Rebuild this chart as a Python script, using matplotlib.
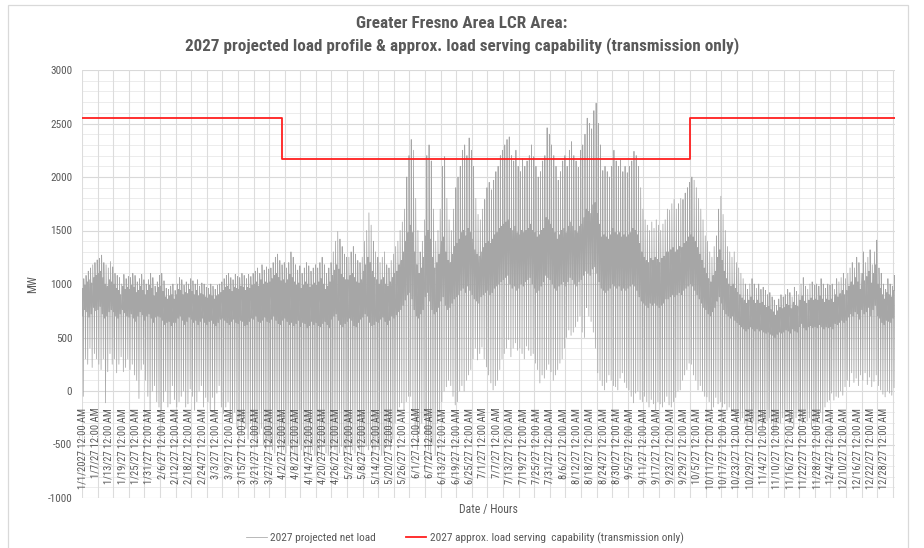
import numpy as np
import pandas as pd
import matplotlib
matplotlib.use("Agg")
import matplotlib.pyplot as plt
from matplotlib import font_manager
from matplotlib.patches import Rectangle

# ---------------- fonts ----------------
_names = {f.name for f in font_manager.fontManager.ttflist}
FONT = next((n for n in ["Liberation Sans Narrow", "Roboto Condensed",
                         "DejaVu Sans Condensed", "Liberation Sans"] if n in _names),
            "DejaVu Sans")
plt.rcParams["font.family"] = [FONT, "DejaVu Sans"]

# ---------------- data ----------------
title_lines = ["Greater Fresno Area LCR Area:",
               "2027 projected load profile & approx. load serving capability (transmission only)"]
series_names = ["2027 projected net load",
                "2027 approx. load serving  capability (transmission only)"]

# daily evening peak of net load (MW), one value per day (365)
peak_mw = [
    1050, 1080, 1120, 1150, 1180, 1200, 1225,
    1240, 1270, 1200, 1180, 1150, 1210, 1160,
    1100, 1080, 1060, 1000, 1090, 1050, 1070,
    1060, 1100, 1080, 1020, 1050, 1090, 1040,
    1000, 1040, 1100, 1060, 980, 1020, 1080,
    1100, 1030, 960, 950, 980, 1000, 940,
    1000, 1060, 1040, 990, 1020, 1000, 1050,
    1030, 1000, 1040, 980, 1010, 1000, 970,
    960, 1000, 980, 950, 990, 1000, 1020,
    1050, 1080, 1100, 1060, 1040, 1090, 1070,
    1060, 1100, 1080, 1050, 1090, 1070, 1100,
    1120, 1150, 1100, 1180, 1130, 1160, 1140,
    1150, 1200, 1250, 1280, 1220, 1180, 1200,
    1150, 1200, 1300, 1250, 1180, 1130, 1170,
    1100, 1150, 1200, 1170, 1120, 1150, 1180,
    1150, 1200, 1250, 1180, 1100, 1150, 1200,
    1300, 1400, 1490, 1420, 1350, 1280, 1250,
    1250, 1300, 1350, 1280, 1220, 1200, 1250,
    1400, 1500, 1665, 1550, 1400, 1300, 1250,
    1200, 1250, 1300, 1180, 1150, 1220, 1280,
    1350, 1400, 1500, 1580, 1700, 2000, 2200,
    2350, 2250, 1800, 1500, 1300, 1400, 1600,
    2200, 2300, 2150, 1700, 1400, 1500, 1700,
    2100, 2190, 1800, 1600, 1500, 1700, 1900,
    2000, 2100, 2250, 2300, 2200, 2365, 2250,
    2100, 1800, 1650, 1600, 1700, 1790, 1900,
    1950, 1880, 1970, 2050, 2100, 2200, 2250,
    2300, 2350, 2375, 2200, 2150, 2250, 2100,
    2050, 2170, 2100, 2150, 2200, 2300, 2190,
    2100, 2000, 2050, 2150, 2200, 2460, 2400,
    2300, 2200, 2100, 1970, 2050, 2150, 2200,
    2100, 2250, 2330, 2200, 2150, 2090, 2250,
    2300, 2400, 2550, 2500, 2450, 2620, 2690,
    2500, 2300, 2060, 2100, 2050, 2000, 2100,
    2250, 2150, 2100, 2160, 2050, 2100, 2040,
    2100, 2150, 2240, 2200, 2100, 1900, 1700,
    1600, 1550, 1500, 1580, 1520, 1600, 1550,
    1500, 1560, 1600, 1700, 1690, 1750, 1790,
    1700, 1750, 1800, 1790, 1850, 1900, 1950,
    2000, 1970, 1900, 1800, 1700, 1600, 1450,
    1400, 1300, 1250, 1350, 1450, 1700, 1820,
    1650, 1500, 1350, 1300, 1250, 1300, 1200,
    1150, 1100, 1050, 1000, 950, 1000, 1050,
    1000, 960, 1000, 950, 970, 940, 900,
    920, 880, 850, 800, 860, 900, 880,
    900, 950, 920, 880, 970, 930, 900,
    1000, 1060, 980, 950, 1000, 1020, 990,
    1000, 980, 1050, 1000, 960, 1000, 990,
    1000, 950, 1050, 1020, 1060, 1100, 1050,
    1100, 1150, 1200, 1150, 1250, 1200, 1100,
    1300, 1200, 1250, 1320, 1180, 1300, 1410,
    1150, 1100, 1000, 950, 1050, 1000, 980,
    1080,
]

# daily midday minimum of net load (MW), one value per day (365)
trough_mw = [
    -50, 300, 250, 400, 220, 350, 300,
    250, 200, 300, -110, 180, 350, 250,
    300, 170, 250, 320, 180, 220, 300,
    200, 250, 150, 100, -70, 200, 250,
    100, -50, -180, 0, 50, -100, -150,
    -180, -100, 0, -150, -120, 50, -80,
    -150, -100, -50, 0, -150, -120, 20,
    -50, -180, -100, 0, 50, -150, -60,
    -100, -180, -60, -200, -20, 50, -150,
    -210, -150, -100, -250, -300, -200, -350,
    -250, -400, -300, -350, -450, -300, -400,
    -450, -520, -400, -350, -500, -550, -450,
    -500, -550, -580, -450, -500, -600, -550,
    -580, -500, -620, -550, -600, -645, -500,
    -550, -600, -500, -620, -580, -550, -600,
    -600, -550, -620, -500, -580, -600, -550,
    -500, -550, -600, -580, -520, -600, -550,
    -520, -600, -550, -580, -500, -550, -600,
    -450, -520, -550, -500, -600, -550, -500,
    -550, -600, -580, -520, -500, -550, -450,
    -300, -200, -150, -110, -180, -100, -50,
    -50, -200, -350, -550, -400, -300, -250,
    -400, -550, -645, -500, -600, -300, -200,
    -100, 0, 40, 100, 50, -50, -130,
    -100, 0, 50, 0, 100, 150, 200,
    300, 400, 290, 350, 410, 300, 225,
    150, 75, 10, 50, 100, 200, 300,
    350, 400, 480, 320, 400, 450, 380,
    400, 350, 300, 420, 380, 330, 350,
    260, 200, 75, 150, 120, 200, 250,
    180, 100, 150, 200, 260, 300, 400,
    500, 570, 520, 550, 600, 650, 700,
    550, 500, 780, 700, 650, 550, 400,
    170, 100, 50, 10, 80, 150, 100,
    50, 40, 10, 120, 170, 80, 30,
    10, -50, -110, -20, 0, -80, -100,
    -50, -100, -150, -80, -120, -180, -100,
    -120, -150, -100, -50, -130, -150, -100,
    -60, 0, 10, 100, 150, 200, 260,
    250, 150, 100, 10, 50, 0, -50,
    -55, -100, -180, -150, -60, -120, -100,
    -150, -120, -180, -150, -200, -180, -250,
    -200, -280, -250, -300, -350, -250, -300,
    -280, -390, -300, -250, -350, -300, -280,
    -250, -300, -390, -350, -280, -300, -250,
    -250, -200, -300, -280, -350, -250, -200,
    -250, -300, -200, -280, -250, -350, -300,
    -280, -250, -200, -300, -150, -100, -85,
    -20, -85, -50, -60, 0, -40, 40,
    100, 40, 170, 80, 120, 50, 150,
    100, 170, 60, 130, 40, 90, 150,
    50, 10, -30, -55, 0, -20, -40,
    30,
]

# daily overnight load level (MW), one value per day (365)
night_mw = [
    700, 760, 740, 690, 720, 780, 750,
    760, 790, 720, 680, 700, 740, 760,
    740, 700, 680, 720, 760, 730, 700,
    690, 720, 680, 650, 700, 740, 710,
    660, 700, 720, 680, 640, 690, 700,
    690, 660, 620, 640, 650, 610, 640,
    640, 680, 700, 660, 620, 650, 690,
    670, 640, 660, 620, 650, 680, 640,
    620, 650, 660, 630, 610, 640, 670,
    680, 660, 640, 620, 650, 670, 640,
    630, 660, 650, 610, 620, 650, 680,
    670, 700, 650, 640, 660, 690, 650,
    640, 670, 700, 660, 630, 620, 660,
    680, 650, 620, 640, 610, 630, 660,
    600, 640, 630, 590, 610, 650, 620,
    640, 610, 600, 630, 650, 620, 590,
    670, 700, 720, 660, 620, 600, 630,
    650, 680, 660, 610, 600, 640, 670,
    690, 720, 700, 640, 610, 620, 650,
    640, 670, 690, 650, 620, 660, 700,
    680, 710, 740, 760, 800, 850, 900,
    920, 860, 760, 700, 680, 720, 760,
    880, 920, 840, 760, 720, 740, 780,
    840, 880, 800, 760, 780, 820, 860,
    880, 900, 940, 960, 920, 980, 940,
    900, 860, 840, 820, 880, 900, 920,
    940, 900, 920, 960, 980, 1000, 1020,
    1040, 1060, 1080, 1000, 960, 980, 940,
    960, 1000, 980, 1020, 1040, 1060, 1000,
    960, 920, 940, 980, 1020, 1080, 1060,
    1040, 1000, 960, 940, 980, 1000, 1020,
    980, 1020, 1060, 1040, 1000, 980, 1020,
    1040, 1080, 1120, 1100, 1080, 1140, 1160,
    1100, 1020, 960, 940, 920, 940, 960,
    1000, 980, 960, 980, 940, 960, 940,
    960, 980, 1000, 980, 940, 880, 840,
    820, 800, 780, 820, 800, 820, 800,
    780, 800, 820, 860, 860, 880, 900,
    880, 900, 920, 900, 940, 960, 980,
    1000, 980, 940, 900, 860, 820, 780,
    760, 720, 700, 740, 780, 840, 880,
    820, 760, 720, 700, 680, 700, 660,
    640, 620, 600, 580, 560, 580, 600,
    580, 560, 580, 560, 570, 550, 540,
    550, 530, 520, 500, 530, 550, 540,
    550, 570, 560, 540, 580, 560, 550,
    600, 630, 590, 570, 600, 610, 590,
    600, 590, 620, 600, 580, 600, 590,
    600, 580, 630, 620, 640, 660, 640,
    660, 690, 720, 700, 740, 720, 670,
    760, 720, 740, 780, 700, 760, 800,
    700, 680, 640, 620, 660, 650, 640,
    680,
]

# daily morning / late-evening shoulder load level (MW), one value per day (365)
shoulder_mw = [
    960, 990, 1020, 1040, 1010, 1060, 1080,
    1100, 1120, 1060, 1000, 980, 1040, 1020,
    1000, 960, 940, 900, 980, 950, 970,
    950, 990, 970, 920, 940, 980, 940,
    900, 940, 990, 960, 890, 920, 970,
    980, 930, 880, 860, 890, 900, 860,
    900, 950, 940, 900, 920, 910, 950,
    930, 900, 940, 890, 910, 900, 880,
    870, 900, 890, 860, 890, 900, 920,
    940, 970, 980, 950, 930, 970, 960,
    950, 980, 970, 940, 970, 960, 990,
    1000, 1020, 980, 1040, 1000, 1020, 1010,
    1020, 1050, 1080, 1100, 1060, 1030, 1040,
    1010, 1040, 1090, 1060, 1020, 990, 1010,
    960, 990, 1020, 1000, 970, 990, 1010,
    990, 1020, 1050, 1000, 950, 980, 1020,
    1080, 1130, 1180, 1140, 1090, 1060, 1040,
    1040, 1080, 1100, 1060, 1020, 1010, 1040,
    1120, 1180, 1250, 1200, 1120, 1060, 1040,
    1000, 1040, 1060, 1000, 980, 1020, 1060,
    1100, 1120, 1180, 1220, 1300, 1400, 1480,
    1550, 1480, 1300, 1180, 1100, 1150, 1250,
    1450, 1500, 1420, 1250, 1150, 1200, 1280,
    1400, 1440, 1300, 1220, 1200, 1280, 1350,
    1380, 1420, 1480, 1500, 1450, 1520, 1480,
    1420, 1320, 1280, 1260, 1300, 1340, 1380,
    1400, 1380, 1420, 1460, 1480, 1520, 1540,
    1560, 1580, 1600, 1520, 1500, 1540, 1480,
    1460, 1500, 1480, 1500, 1520, 1560, 1500,
    1480, 1440, 1460, 1500, 1520, 1620, 1600,
    1560, 1520, 1480, 1420, 1460, 1500, 1520,
    1480, 1540, 1580, 1540, 1500, 1480, 1540,
    1560, 1620, 1700, 1680, 1660, 1740, 1760,
    1660, 1560, 1440, 1460, 1440, 1420, 1460,
    1520, 1480, 1460, 1480, 1440, 1460, 1440,
    1460, 1480, 1520, 1500, 1460, 1380, 1300,
    1250, 1220, 1200, 1240, 1220, 1250, 1230,
    1200, 1240, 1260, 1300, 1300, 1320, 1340,
    1300, 1320, 1350, 1340, 1380, 1400, 1440,
    1460, 1440, 1400, 1340, 1280, 1220, 1150,
    1100, 1050, 1020, 1080, 1120, 1250, 1320,
    1220, 1120, 1050, 1000, 980, 1000, 960,
    920, 900, 870, 850, 820, 850, 880,
    850, 820, 850, 820, 830, 800, 780,
    790, 760, 740, 710, 750, 780, 770,
    780, 810, 800, 770, 830, 800, 790,
    850, 890, 840, 820, 850, 870, 850,
    860, 850, 890, 860, 830, 860, 850,
    860, 830, 900, 880, 910, 940, 900,
    940, 980, 1020, 990, 1060, 1020, 950,
    1100, 1030, 1070, 1120, 1010, 1100, 1180,
    1000, 960, 900, 860, 920, 900, 880,
    940,
]

# hours of the day for: night, morning shoulder, midday trough, evening peak, late shoulder
profile_hours = [2, 8, 13, 19, 22]

# load serving capability: step starts (hour of year) and levels
cap_start_hours = [0, 2160, 6552]
cap_values_mw = [2550, 2170, 2550]

# axis ticks (category labels every 144 hours)
y_ticks = [-1000, -500, 0, 500, 1000, 1500, 2000, 2500, 3000]
tick_dates = ["1/1/2027", "1/7/27", "1/13/27", "1/19/27", "1/25/27", "1/31/27",
              "2/6/27", "2/12/27", "2/18/27", "2/24/27", "3/3/27", "3/9/27", "3/15/27",
              "3/21/27", "3/27/27", "4/2/27", "4/8/27", "4/14/27", "4/20/27", "4/26/27",
              "5/2/27", "5/8/27", "5/14/27", "5/20/27", "5/26/27", "6/1/27", "6/7/27",
              "6/13/27", "6/19/27", "6/25/27", "7/1/27", "7/7/27", "7/13/27", "7/19/27",
              "7/25/27", "7/31/27", "8/6/27", "8/12/27", "8/18/27", "8/24/27", "8/30/27",
              "9/5/27", "9/11/27", "9/17/27", "9/23/27", "9/29/27", "10/5/27", "10/11/27",
              "10/17/27", "10/23/27", "10/29/27", "11/4/27", "11/10/27", "11/16/27",
              "11/22/27", "11/28/27", "12/4/27", "12/10/27", "12/16/27", "12/22/27",
              "12/28/27"]
tick_labels = [f"{d} 12:00 AM" for d in tick_dates]
label_step_hours = 144
grid_step_hours = 168

for arr in (peak_mw, trough_mw, night_mw, shoulder_mw):
    assert len(arr) == 365

# ---------------- build series ----------------
hours_in_year = 8760
xs, ys = [], []
for d in range(365):
    vals = [night_mw[d], shoulder_mw[d], trough_mw[d], peak_mw[d], shoulder_mw[d]]
    for h, v in zip(profile_hours, vals):
        xs.append(d * 24 + h + 0.5)
        ys.append(v)

cap_x = cap_start_hours + [hours_in_year]
cap_y = cap_values_mw + [cap_values_mw[-1]]

# ---------------- figure ----------------
W, H = 924, 548
fig = plt.figure(figsize=(W / 100, H / 100), dpi=100)
fig.patch.set_facecolor("white")
L, R, T, B = 82, 895, 70, 498
ax = fig.add_axes([L / W, 1 - B / H, (R - L) / W, (B - T) / H])

TXT = "#595959"
GRAY = "#a6a6a6"

# grid
for v in range(-1000, 3001, 100):
    major = (v % 500 == 0)
    ax.axhline(v, color="#d9d9d9" if major else "#ececec", lw=0.8 if major else 0.7, zorder=0.5)
for hx in range(0, hours_in_year + 1, grid_step_hours):
    ax.axvline(hx, color="#dcdcdc", lw=0.8, zorder=0.5)

ax.plot(xs, ys, color=GRAY, lw=0.55, zorder=2, label=series_names[0])
ax.step(cap_x, cap_y, where="post", color="#ff1f1f", lw=1.3, zorder=3, label=series_names[1])

ax.set_xlim(0, hours_in_year)
ax.set_ylim(-1000, 3000)
for s in ax.spines.values():
    s.set_visible(False)

ax.set_yticks(y_ticks)
ax.set_yticklabels([str(v) for v in y_ticks])
ax.tick_params(axis="y", length=0, pad=7, labelsize=8, labelcolor=TXT)
ax.set_xticks([])

# x tick labels hanging from the zero line
for i, lab in enumerate(tick_labels):
    hx = i * label_step_hours + 0.5
    ax.annotate(lab, xy=(hx, 0), xytext=(0, -17), textcoords="offset pixels",
                rotation=90, ha="center", va="top", fontsize=7.6, color=TXT, zorder=4,
                annotation_clip=False)

ax.set_ylabel("MW", color=TXT, fontsize=8.5, labelpad=6)
fig.text((L + R) / 2 / W, 1 - 510 / H, "Date / Hours", ha="center", va="center",
         fontsize=8.5, color=TXT)

# titles
fig.text(0.5, 1 - 23 / H, title_lines[0], ha="center", va="center",
         fontsize=12.3, fontweight="bold", color=TXT)
fig.text(0.5, 1 - 46 / H, title_lines[1], ha="center", va="center",
         fontsize=12.3, fontweight="bold", color=TXT)

# legend
fig.legend(loc="center", bbox_to_anchor=(465 / W, 1 - 538 / H), ncol=2, frameon=False,
           fontsize=8.2, handlelength=1.8, handletextpad=0.3, columnspacing=2.6,
           labelcolor=TXT)

# chart area border
fig.add_artist(Rectangle((8 / W, -0.05), (908 - 8) / W, 1 - 5 / H + 0.05,
                         transform=fig.transFigure, fill=False, ec="#d9d9d9", lw=0.9))

fig.savefig("out.png", dpi=100, facecolor="white")
